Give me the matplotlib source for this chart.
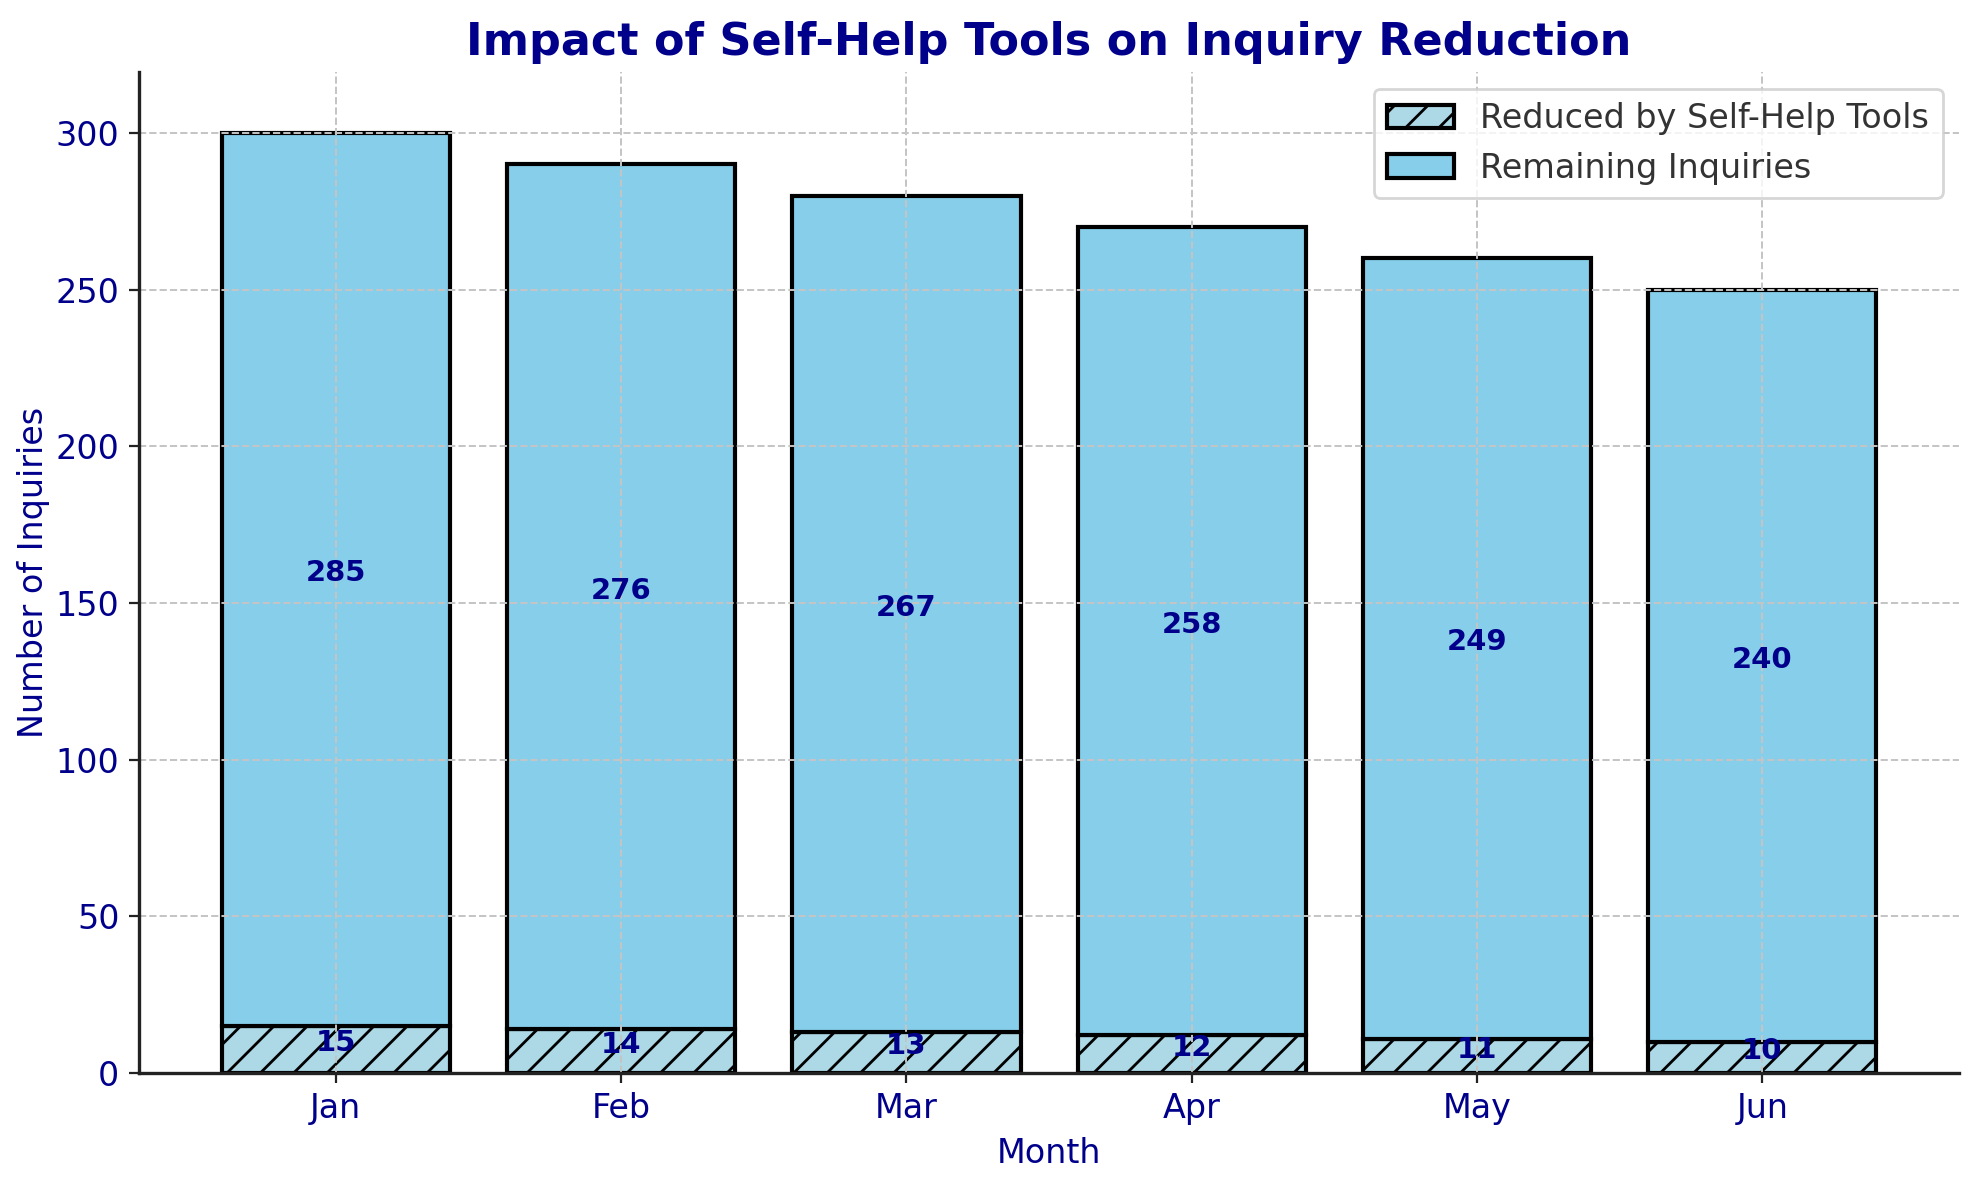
import matplotlib
matplotlib.use("Agg")
import matplotlib.pyplot as plt
import numpy as np

months = ["Jan", "Feb", "Mar", "Apr", "May", "Jun"]
reduced = [15, 14, 13, 12, 11, 10]
remaining = [285, 276, 267, 258, 249, 240]

navy = "darkblue"

fig, ax = plt.subplots(figsize=(9.895, 5.9), dpi=200)
x = np.arange(len(months))

b1 = ax.bar(x, reduced, width=0.8, color="lightblue", edgecolor="black",
            linewidth=1.5, hatch="//", label="Reduced by Self-Help Tools")
b2 = ax.bar(x, remaining, width=0.8, bottom=reduced, color="skyblue",
            edgecolor="black", linewidth=1.5, label="Remaining Inquiries")

for i in range(len(months)):
    ax.annotate(str(reduced[i]), (x[i], reduced[i] / 2), xytext=(0, 2.2),
                textcoords="offset points", ha="center", va="center",
                color=navy, fontsize=10.5, fontweight="bold")
    ax.annotate(str(remaining[i]), (x[i], reduced[i] + remaining[i] / 2),
                xytext=(0, 2.2), textcoords="offset points", ha="center",
                va="center", color=navy, fontsize=10.5, fontweight="bold")

ax.set_ylim(0, 319.5)
ax.set_xticks(x)
ax.set_xticklabels(months)
ax.tick_params(colors=navy, labelsize=12)
ax.tick_params(axis="both", color="#222222")
ax.set_xlabel("Month", fontsize=12, color=navy)
ax.set_ylabel("Number of Inquiries", fontsize=12, color=navy, labelpad=2)
ax.set_title("Impact of Self-Help Tools on Inquiry Reduction", fontsize=16,
             fontweight="bold", color=navy)

ax.grid(True, linestyle="--", color="#c4c4c4", linewidth=0.7)
for s in ["top", "right"]:
    ax.spines[s].set_visible(False)
for s in ["left", "bottom"]:
    ax.spines[s].set_color("#222222")
    ax.spines[s].set_linewidth(1.2)

leg = ax.legend(fontsize=12, loc="upper right", edgecolor="#cccccc")
for t in leg.get_texts():
    t.set_color("#333333")

fig.subplots_adjust(left=0.0702, right=0.990, top=0.939, bottom=0.0907)
plt.savefig("out.png", dpi=200)
